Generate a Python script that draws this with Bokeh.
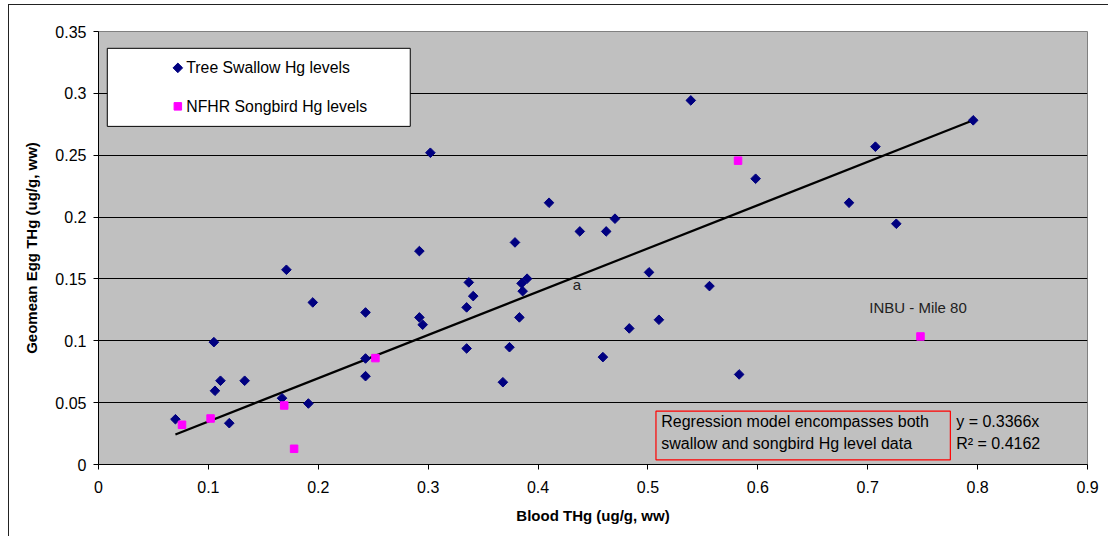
import numpy as np
from bokeh.plotting import figure
from bokeh.models import Range1d, FixedTicker, BoxAnnotation, Label, InlineStyleSheet
from bokeh.embed import file_html
from bokeh.resources import INLINE

# ---- data ----
swallow_x = [0.070, 0.105, 0.106, 0.111, 0.119, 0.133, 0.171, 0.167, 0.191, 0.195,
             0.243, 0.243, 0.243, 0.292, 0.292, 0.295, 0.302, 0.335, 0.337, 0.341,
             0.335, 0.368, 0.374, 0.379, 0.383, 0.385, 0.386, 0.390, 0.410, 0.438,
             0.462, 0.470, 0.459, 0.483, 0.501, 0.510, 0.539, 0.556, 0.583, 0.598,
             0.683, 0.707, 0.726, 0.796]
swallow_y = [0.0366, 0.0989, 0.0596, 0.0677, 0.0334, 0.0677, 0.1574, 0.0536, 0.0493, 0.1310,
             0.1229, 0.0857, 0.0714, 0.1725, 0.1189, 0.1130, 0.2520, 0.1270, 0.1472, 0.1361,
             0.0938, 0.0665, 0.0948, 0.1795, 0.1189, 0.1464, 0.1401, 0.1502, 0.2116, 0.1884,
             0.1884, 0.1987, 0.0868, 0.1100, 0.1553, 0.1170, 0.2943, 0.1442, 0.0728, 0.2310,
             0.2116, 0.2569, 0.1946, 0.2782]
songbird_x = [0.076, 0.102, 0.169, 0.178, 0.252, 0.582, 0.748]
songbird_y = [0.0321, 0.0372, 0.0477, 0.0127, 0.0860, 0.2456, 0.1035]
trend_x = [0.070, 0.796]
trend_y = [0.0243, 0.2782]

x_ticks = [0, 0.1, 0.2, 0.3, 0.4, 0.5, 0.6, 0.7, 0.8, 0.9]
x_tick_labels = ["0", "0.1", "0.2", "0.3", "0.4", "0.5", "0.6", "0.7", "0.8", "0.9"]
y_ticks = [0, 0.05, 0.1, 0.15, 0.2, 0.25, 0.3, 0.35]
y_tick_labels = ["0", "0.05", "0.1", "0.15", "0.2", "0.25", "0.3", "0.35"]

series_names = ["Tree Swallow Hg levels", "NFHR Songbird Hg levels"]
x_title = "Blood THg (ug/g, ww)"
y_title = "Geomean Egg THg (ug/g, ww)"
note_lines = ["Regression model encompasses both", "swallow and songbird Hg level data"]
eq_lines = ["y = 0.3366x", "R\u00b2 = 0.4162"]

FONT = "Liberation Sans"
NAVY = "#000080"
MAGENTA = "#FF00FF"

# outer chart frame (left and top edges, as in the reference picture)
frame_css = InlineStyleSheet(css="""
:host { position: relative; }
:host::after {
  content: ""; position: absolute; left: 8px; top: 4px; right: 0px; bottom: 0px;
  border-left: 1.5px solid #222222; border-top: 1.5px solid #222222;
  pointer-events: none; z-index: 10;
}
""")

p = figure(width=1108, height=536, output_backend="svg", toolbar_location=None,
           x_range=Range1d(0, 0.9), y_range=Range1d(0, 0.35),
           min_border_left=98, min_border_top=31, min_border_right=21, min_border_bottom=72,
           background_fill_color="#C0C0C0", border_fill_color="white",
           outline_line_color="#808080", outline_line_width=1,
           stylesheets=[frame_css])

# axes
for ax in (p.xaxis[0], p.yaxis[0]):
    ax.axis_line_color = "#000000"
    ax.major_tick_line_color = "#000000"
    ax.major_tick_in = 0
    ax.major_tick_out = 5
    ax.minor_tick_line_color = None
    ax.major_label_text_font = FONT
    ax.major_label_text_font_size = "16px"
    ax.major_label_text_color = "#000000"
    ax.axis_label_text_font = FONT
    ax.axis_label_text_font_size = "15px"
    ax.axis_label_text_font_style = "bold"
    ax.axis_label_text_color = "#000000"

p.xaxis.ticker = FixedTicker(ticks=x_ticks)
p.xaxis.major_label_overrides = dict(zip(x_ticks, x_tick_labels))
p.yaxis.ticker = FixedTicker(ticks=y_ticks)
p.yaxis.major_label_overrides = dict(zip(y_ticks, y_tick_labels))
p.xaxis.axis_label = x_title
p.yaxis.axis_label = y_title
p.xaxis.major_label_standoff = 11
p.xaxis.axis_label_standoff = 11
p.yaxis.major_label_standoff = 7
p.yaxis.axis_label_standoff = 12

p.xgrid.grid_line_color = None
p.ygrid.grid_line_color = "#000000"
p.ygrid.grid_line_width = 1

# trend line and points
p.line(trend_x, trend_y, line_color="#000000", line_width=2.2)
p.scatter(swallow_x, swallow_y, marker="square", angle=np.pi / 4, size=6.8,
          fill_color=NAVY, line_color=NAVY)
p.scatter(songbird_x, songbird_y, marker="square", size=7.5,
          fill_color=MAGENTA, line_color=MAGENTA)

# legend (drawn manually to match the reference layout)
p.add_layout(BoxAnnotation(left=0.008, right=0.2837, bottom=0.2733, top=0.3364,
                           fill_color="white", fill_alpha=1, line_color="#000000",
                           line_alpha=1, line_width=1, level="glyph"))
p.scatter([0.0722], [0.3206], marker="square", angle=np.pi / 4, size=6.8,
          fill_color=NAVY, line_color=NAVY, level="annotation")
p.scatter([0.0722], [0.2895], marker="square", size=7.5,
          fill_color=MAGENTA, line_color=MAGENTA, level="annotation")
for yy, name in zip([0.3206, 0.2895], series_names):
    p.add_layout(Label(x=0.0799, y=yy, text=name, text_font=FONT, text_font_size="15.8px",
                       text_baseline="middle", text_align="left", text_color="#000000"))

# annotations
p.add_layout(Label(x=0.4354, y=0.1455, text="a", text_font=FONT, text_font_size="15px",
                   text_baseline="middle", text_align="center", text_color="#222222"))
p.add_layout(Label(x=0.7014, y=0.1269, text="INBU - Mile 80", text_font=FONT,
                   text_font_size="15px", text_baseline="middle", text_align="left",
                   text_color="#222222"))
p.add_layout(BoxAnnotation(left=0.5073, right=0.7752, bottom=0.0038, top=0.0431,
                           fill_alpha=0, line_color="#FF0000", line_alpha=1, line_width=1.2))
for yy, t in zip([0.0348, 0.0170], note_lines):
    p.add_layout(Label(x=0.5121, y=yy, text=t, text_font=FONT, text_font_size="16px",
                       text_baseline="middle", text_align="left", text_color="#000000"))
for yy, t in zip([0.0348, 0.0170], eq_lines):
    p.add_layout(Label(x=0.7805, y=yy, text=t, text_font=FONT, text_font_size="16px",
                       text_baseline="middle", text_align="left", text_color="#000000"))

open("out.html", "w").write(file_html(p, INLINE))
